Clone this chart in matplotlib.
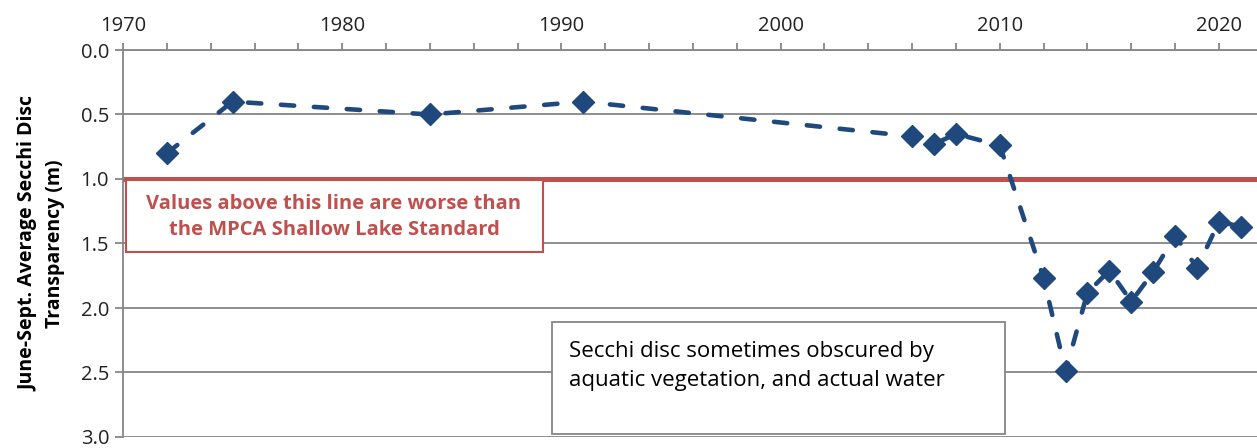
import matplotlib.pyplot as plt
import matplotlib.patches as mpatches

# June-Sept. average Secchi transparency (m)
years = [1972, 1975, 1984, 1991, 2006, 2007, 2008, 2010,
         2012, 2013, 2014, 2015, 2016, 2017, 2018, 2019, 2020, 2021]
secchi = [0.80, 0.40, 0.50, 0.40, 0.67, 0.73, 0.65, 0.74,
          1.77, 2.49, 1.88, 1.71, 1.95, 1.72, 1.44, 1.69, 1.33, 1.37]
standard = 1.0

x_ticks = list(range(1970, 2022, 2))
y_ticks = [0.0, 0.5, 1.0, 1.5, 2.0, 2.5, 3.0]

blue = '#1F497D'
red = '#C0504D'
grey = '#868686'

plt.rcParams['font.family'] = ['Open Sans', 'DejaVu Sans']

W, H = 1257, 448
fig = plt.figure(figsize=(W / 100, H / 100), dpi=100)
ax = fig.add_axes([123 / W, 1 - 437 / H, 1 - 123 / W, (437 - 50) / H])

ax.set_xlim(1970, 1970 + (W - 123) / 21.92)
ax.set_ylim(3.0, 0.0)

# grid
for y in y_ticks:
    ax.axhline(y, color=grey, lw=1.3, zorder=1)

# standard line
ax.axhline(standard, color=red, lw=3.6, zorder=2)

ax.plot(years, secchi, color=blue, lw=3.3, ls=(0, (2.9, 4.3)),
        dash_capstyle='round', marker='D', markersize=11.5,
        markerfacecolor=blue, markeredgecolor=blue, zorder=4)

# axes styling
ax.xaxis.tick_top()
ax.set_xticks(x_ticks)
ax.set_xticklabels([str(t) if t % 10 == 0 else '' for t in x_ticks],
                   fontsize=14.5, color='#222222')
ax.tick_params(axis='x', direction='out', length=5, width=1.3, color=grey,
               top=True, bottom=False, pad=5)
ax.set_yticks(y_ticks)
ax.set_yticklabels(['%.1f' % v for v in y_ticks], fontsize=14.5, color='#222222')
ax.tick_params(axis='y', direction='out', length=6, width=1.3, color=grey, pad=4)

for side in ['right', 'bottom']:
    ax.spines[side].set_visible(False)
for side in ['left', 'top']:
    ax.spines[side].set_color(grey)
    ax.spines[side].set_linewidth(1.3)

ax.set_ylabel('June-Sept. Average Secchi Disc\nTransparency (m)',
              fontsize=14, fontweight='bold', labelpad=11, linespacing=1.45)


def px_box(x0, y0, x1, y1, ec, lw):
    r = mpatches.Rectangle((x0 / W, 1 - y1 / H), (x1 - x0) / W,
                           (y1 - y0) / H, transform=fig.transFigure,
                           facecolor='white', edgecolor=ec, lw=lw, zorder=5)
    fig.add_artist(r)


# red annotation box
px_box(126, 180, 543, 252, red, 1.5)
fig.text(334 / W, 1 - 217 / H,
         'Values above this line are worse than\nthe MPCA Shallow Lake Standard',
         ha='center', va='center', fontsize=14.5, fontweight='bold',
         color=red, linespacing=1.4, zorder=6)

# note box
px_box(552, 322, 1005, 434, grey, 1.3)
fig.text(569 / W, 1 - 366 / H,
         'Secchi disc sometimes obscured by\naquatic vegetation, and actual water',
         ha='left', va='center', fontsize=16, color='black',
         linespacing=1.45, zorder=6)

fig.savefig('out.png', dpi=100)
